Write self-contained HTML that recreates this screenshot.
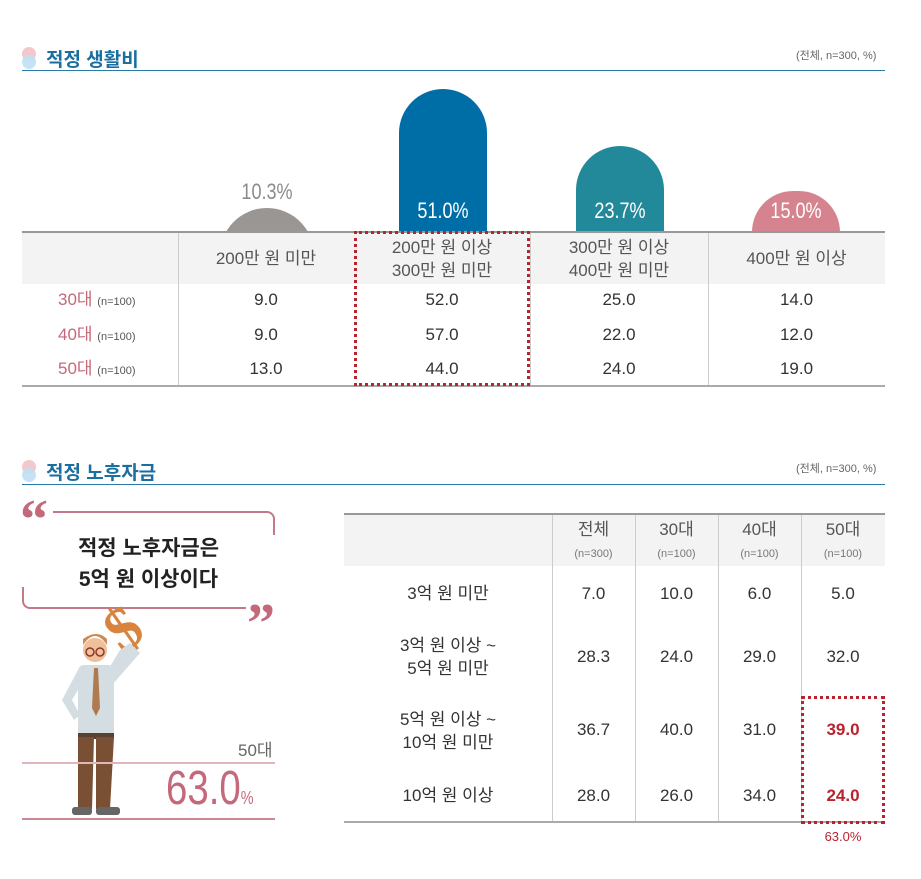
<!DOCTYPE html>
<html><head><meta charset="utf-8"><style>
body{margin:0;width:921px;height:879px;background:#fff;position:relative;overflow:hidden;font-family:"Liberation Sans","Noto Sans CJK KR",sans-serif;color:#333}
.a{position:absolute}
.c{position:absolute;text-align:center;white-space:nowrap}
.t{font-size:17px;color:#333;line-height:20px}
.title{font-size:19px;font-weight:bold;color:#1a6ea0}
.sm{font-size:11px;color:#666}
.pk{color:#c4697a}
.bl{position:absolute;text-align:center;font-size:22px;transform:scaleX(.82);line-height:24px}
</style></head><body>
<div class="a" style="left:22px;top:47px;width:14px;height:14px;border-radius:7px;background:#f2c8cc"></div>
<div class="a" style="left:22px;top:55px;width:14px;height:14px;border-radius:7px;background:#bfe0f3;opacity:.9"></div>
<div class="a title" style="left:46px;top:45px">적정 생활비</div>
<div class="a sm" style="left:796px;top:47px">(전체, n=300, %)</div>
<div class="a" style="left:22px;top:70px;width:863px;height:1px;background:#2a7aa8"></div>

<div class="a" style="left:220px;top:208px;width:94px;height:24px;overflow:hidden"><div style="width:94px;height:94px;border-radius:47px;background:#9a9694"></div></div>
<div class="bl" style="left:217px;top:180px;width:100px;color:#8e8a88">10.3%</div>
<div class="a" style="left:399px;top:89px;width:88px;height:143px;border-radius:44px 44px 0 0;background:#006ea6"></div>
<div class="bl" style="left:393px;top:199px;width:100px;color:#fff">51.0%</div>
<div class="a" style="left:576px;top:146px;width:88px;height:86px;border-radius:44px 44px 0 0;background:#22899a"></div>
<div class="bl" style="left:570px;top:199px;width:100px;color:#fff">23.7%</div>
<div class="a" style="left:752px;top:191px;width:88px;height:41px;border-radius:44px 44px 0 0;background:#d5848f"></div>
<div class="bl" style="left:746px;top:199px;width:100px;color:#fff">15.0%</div>

<div class="a" style="left:22px;top:232px;width:863px;height:52px;background:#f3f3f3"></div>
<div class="a" style="left:22px;top:231px;width:863px;height:2px;background:#999"></div>
<div class="a" style="left:22px;top:385px;width:863px;height:2px;background:#aaa"></div>
<div class="a" style="left:178px;top:233px;width:1px;height:152px;background:#ccc"></div>
<div class="a" style="left:530px;top:233px;width:1px;height:152px;background:#ccc"></div>
<div class="a" style="left:708px;top:233px;width:1px;height:152px;background:#ccc"></div>
<div class="c t" style="left:178px;top:249px;width:176px;color:#555">200만 원 미만</div>
<div class="c t" style="left:354px;top:236px;width:176px;line-height:23px;color:#555">200만 원 이상<br>300만 원 미만</div>
<div class="c t" style="left:530px;top:236px;width:178px;line-height:23px;color:#555">300만 원 이상<br>400만 원 미만</div>
<div class="c t" style="left:708px;top:249px;width:177px;color:#555">400만 원 이상</div>
<div class="a" style="left:58px;top:290px;font-size:17px;line-height:20px"><span class="pk">30대</span> <span class="sm" style="color:#555">(n=100)</span></div>
<div class="a" style="left:58px;top:325px;font-size:17px;line-height:20px"><span class="pk">40대</span> <span class="sm" style="color:#555">(n=100)</span></div>
<div class="a" style="left:58px;top:359px;font-size:17px;line-height:20px"><span class="pk">50대</span> <span class="sm" style="color:#555">(n=100)</span></div>
<div class="c t" style="left:178px;top:290px;width:176px">9.0</div>
<div class="c t" style="left:178px;top:325px;width:176px">9.0</div>
<div class="c t" style="left:178px;top:359px;width:176px">13.0</div>
<div class="c t" style="left:354px;top:290px;width:176px">52.0</div>
<div class="c t" style="left:354px;top:325px;width:176px">57.0</div>
<div class="c t" style="left:354px;top:359px;width:176px">44.0</div>
<div class="c t" style="left:530px;top:290px;width:178px">25.0</div>
<div class="c t" style="left:530px;top:325px;width:178px">22.0</div>
<div class="c t" style="left:530px;top:359px;width:178px">24.0</div>
<div class="c t" style="left:708px;top:290px;width:177px">14.0</div>
<div class="c t" style="left:708px;top:325px;width:177px">12.0</div>
<div class="c t" style="left:708px;top:359px;width:177px">19.0</div>
<div class="a" style="left:354px;top:231px;width:170px;height:149px;border:3px dotted #b8232e"></div>

<div class="a" style="left:22px;top:460px;width:14px;height:14px;border-radius:7px;background:#f2c8cc"></div>
<div class="a" style="left:22px;top:468px;width:14px;height:14px;border-radius:7px;background:#bfe0f3;opacity:.9"></div>
<div class="a title" style="left:46px;top:458px">적정 노후자금</div>
<div class="a sm" style="left:796px;top:460px">(전체, n=300, %)</div>
<div class="a" style="left:22px;top:484px;width:863px;height:1px;background:#2a7aa8"></div>

<div class="a" style="left:20px;top:492px;font-size:56px;font-weight:bold;color:#c4697a;line-height:56px;font-family:'Liberation Serif',serif">“</div>
<div class="a" style="left:53px;top:511px;width:220px;height:22px;border-top:2px solid #c4798a;border-right:2px solid #c4798a;border-radius:0 8px 0 0"></div>
<div class="a" style="left:22px;top:587px;width:222px;height:20px;border-bottom:2px solid #c4798a;border-left:2px solid #c4798a;border-radius:0 0 0 8px"></div>
<div class="a" style="left:247px;top:596px;font-size:56px;font-weight:bold;color:#c4697a;line-height:56px;font-family:'Liberation Serif',serif">”</div>
<div class="c" style="left:22px;top:533px;width:253px;font-size:21px;font-weight:bold;color:#222;line-height:31px">적정 노후자금은<br>5억 원 이상이다</div>

<div class="a" style="left:108px;top:598px;font-size:62px;font-weight:bold;color:#d8843f;transform:rotate(-35deg);line-height:62px;font-family:'Liberation Serif',serif">$</div>
<svg class="a" style="left:50px;top:605px" width="110" height="215" viewBox="0 0 110 215">
<path d="M70 45 L80 38 L90 48 L62 80 L55 70z" fill="#d3dde2"/>
<circle cx="45" cy="45" r="12" fill="#f0c09a"/>
<path d="M33 40 q12-18 24 0 l0-6 q-10-10 -24 0z" fill="#c98a55"/>
<circle cx="40" cy="47" r="4" fill="none" stroke="#8a3a2a" stroke-width="1.5"/>
<circle cx="50" cy="47" r="4" fill="none" stroke="#8a3a2a" stroke-width="1.5"/>
<rect x="28" y="60" width="36" height="72" rx="6" fill="#d3dde2"/>
<path d="M28 65 L12 95 L24 115 L30 110 L22 95 L32 78z" fill="#d3dde2"/>
<path d="M44 63 l4 0 2 40 -4 8 -4-8z" fill="#b07a50"/>
<rect x="28" y="128" width="36" height="6" fill="#5a4030"/>
<path d="M28 132 h16 l-2 72 h-14z M46 132 h18 l-4 72 h-14z" fill="#7a5034"/>
<rect x="22" y="202" width="20" height="8" rx="3" fill="#666"/>
<rect x="46" y="202" width="24" height="8" rx="3" fill="#666"/>
</svg>
<div class="a" style="left:22px;top:762px;width:253px;height:2px;background:#e2b5bd"></div>
<div class="a" style="left:22px;top:818px;width:253px;height:2px;background:#c98a96"></div>
<div class="a" style="left:238px;top:736px;font-size:17px;color:#666">50대</div>
<div class="a" style="left:166px;top:764px;font-size:48px;color:#c4697a;line-height:50px;transform:scaleX(.8);transform-origin:left">63.0<span style="font-size:18px">%</span></div>

<div class="a" style="left:344px;top:514px;width:541px;height:52px;background:#f3f3f3"></div>
<div class="a" style="left:344px;top:513px;width:541px;height:2px;background:#999"></div>
<div class="a" style="left:344px;top:821px;width:541px;height:2px;background:#aaa"></div>
<div class="a" style="left:552px;top:515px;width:1px;height:306px;background:#ccc"></div>
<div class="a" style="left:635px;top:515px;width:1px;height:306px;background:#ccc"></div>
<div class="a" style="left:718px;top:515px;width:1px;height:306px;background:#ccc"></div>
<div class="a" style="left:801px;top:515px;width:1px;height:306px;background:#ccc"></div>
<div class="c" style="left:552px;top:519px;width:83px;font-size:17px;color:#555;line-height:22px">전체<br><span style="font-size:11px;color:#777">(n=300)</span></div>
<div class="c" style="left:635px;top:519px;width:83px;font-size:17px;color:#555;line-height:22px">30대<br><span style="font-size:11px;color:#777">(n=100)</span></div>
<div class="c" style="left:718px;top:519px;width:83px;font-size:17px;color:#555;line-height:22px">40대<br><span style="font-size:11px;color:#777">(n=100)</span></div>
<div class="c" style="left:801px;top:519px;width:84px;font-size:17px;color:#555;line-height:22px">50대<br><span style="font-size:11px;color:#777">(n=100)</span></div>

<div class="c t" style="left:344px;top:584px;width:208px">3억 원 미만</div>
<div class="c t" style="left:344px;top:634px;width:208px;line-height:23px">3억 원 이상 ~<br>5억 원 미만</div>
<div class="c t" style="left:344px;top:708px;width:208px;line-height:23px">5억 원 이상 ~<br>10억 원 미만</div>
<div class="c t" style="left:344px;top:786px;width:208px">10억 원 이상</div>

<div class="c t" style="left:552px;top:584px;width:83px">7.0</div>
<div class="c t" style="left:635px;top:584px;width:83px">10.0</div>
<div class="c t" style="left:718px;top:584px;width:83px">6.0</div>
<div class="c t" style="left:801px;top:584px;width:84px">5.0</div>
<div class="c t" style="left:552px;top:647px;width:83px">28.3</div>
<div class="c t" style="left:635px;top:647px;width:83px">24.0</div>
<div class="c t" style="left:718px;top:647px;width:83px">29.0</div>
<div class="c t" style="left:801px;top:647px;width:84px">32.0</div>
<div class="c t" style="left:552px;top:720px;width:83px">36.7</div>
<div class="c t" style="left:635px;top:720px;width:83px">40.0</div>
<div class="c t" style="left:718px;top:720px;width:83px">31.0</div>
<div class="c t" style="left:801px;top:720px;width:84px;color:#b8232e;font-weight:bold">39.0</div>
<div class="c t" style="left:552px;top:786px;width:83px">28.0</div>
<div class="c t" style="left:635px;top:786px;width:83px">26.0</div>
<div class="c t" style="left:718px;top:786px;width:83px">34.0</div>
<div class="c t" style="left:801px;top:786px;width:84px;color:#b8232e;font-weight:bold">24.0</div>
<div class="a" style="left:801px;top:696px;width:78px;height:122px;border:3px dotted #b8232e"></div>
<div class="c" style="left:801px;top:829px;width:84px;font-size:13px;color:#b8232e">63.0%</div>
</body></html>
